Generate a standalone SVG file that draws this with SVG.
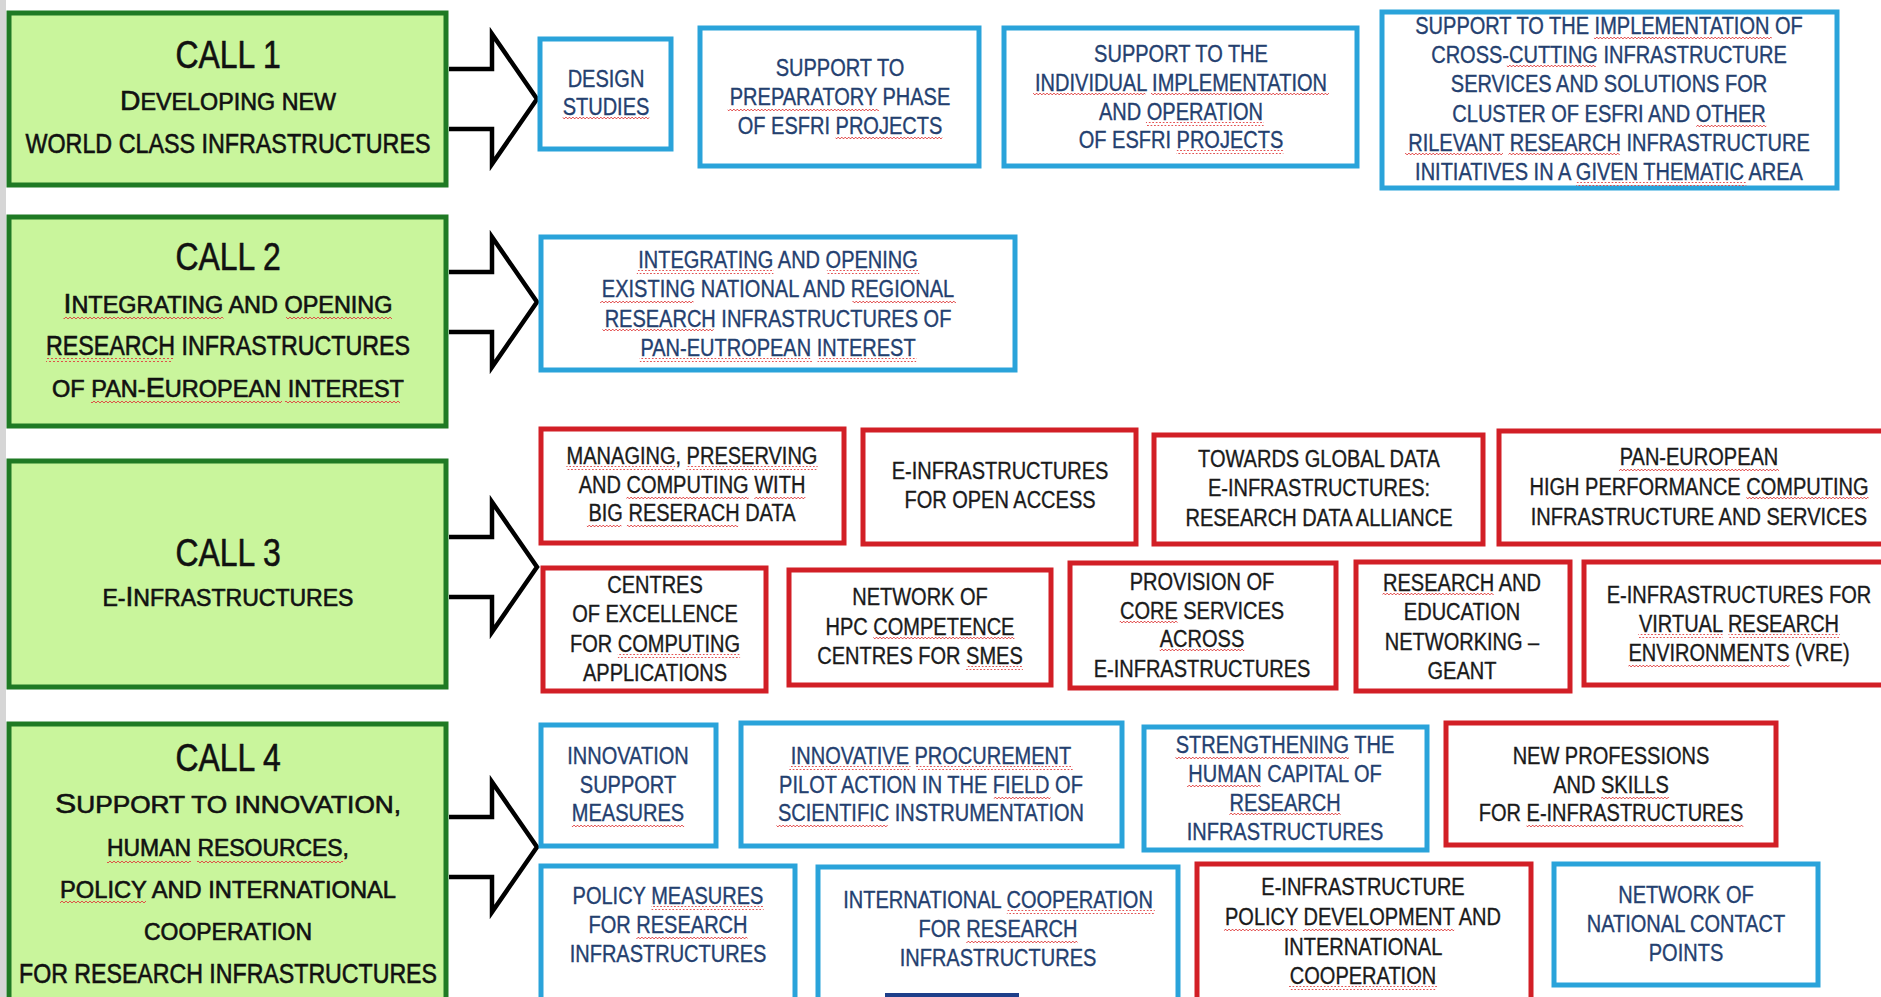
<svg xmlns="http://www.w3.org/2000/svg" width="1881" height="997" viewBox="0 0 1881 997">
<defs>
<pattern id="wv" width="4" height="4" patternUnits="userSpaceOnUse">
<path d="M0,3 L2,1 L4,3" fill="none" stroke="#e0403f" stroke-width="0.9"/>
</pattern>
</defs>
<style>
text{font-family:"Liberation Sans",Arial,sans-serif;text-anchor:middle}
.gb{fill:#c9f59c;stroke:#1f7a24;stroke-width:5}
.bb{fill:#fff;stroke:#2aa3da;stroke-width:5}
.rb{fill:#fff;stroke:#d21f26;stroke-width:5}
.bt text{fill:#24406f;stroke:#24406f;stroke-width:0.35;font-size:23px}
.rt text{fill:#1a1a1a;stroke:#1a1a1a;stroke-width:0.35;font-size:23px}
.call{fill:#111;stroke:#111;stroke-width:0.6;font-size:38px}
.gt{fill:#111;stroke:#111;stroke-width:0.6;font-size:23px}
.B{font-size:28px}
.w{fill:url(#wv)}
.arr{fill:#fff;stroke:#000;stroke-width:4.5;stroke-linejoin:miter}
</style>
<rect x="0" y="0" width="1881" height="997" fill="#fff"/>
<rect x="0" y="0" width="6" height="997" fill="#d6d6d6"/>

<g id="call1">
<rect class="gb" x="9" y="13" width="437" height="172"/>
<text class="call" transform="translate(228 0) scale(0.84 1)" x="0" y="68">CALL 1</text>
<text class="gt" x="228" y="110" textLength="216" lengthAdjust="spacingAndGlyphs"><tspan class="B">D</tspan>EVELOPING NEW</text>
<text class="gt B" x="228" y="153" textLength="405" lengthAdjust="spacingAndGlyphs">WORLD CLASS INFRASTRUCTURES</text>
</g>
<g id="call2">
<rect class="gb" x="9" y="217" width="437" height="209"/>
<text class="call" transform="translate(228 0) scale(0.84 1)" x="0" y="270">CALL 2</text>
<text class="gt" x="228" y="313" textLength="329" lengthAdjust="spacingAndGlyphs"><tspan class="B">I</tspan>NTEGRATING AND OPENING</text>
<text class="gt B" x="228" y="355" textLength="364" lengthAdjust="spacingAndGlyphs">RESEARCH INFRASTRUCTURES</text>
<text class="gt" x="228" y="397" textLength="352" lengthAdjust="spacingAndGlyphs">OF PAN-<tspan class="B">E</tspan>UROPEAN INTEREST</text>
<rect class="w" x="63.5" y="316" width="160" height="4"/>
<rect class="w" x="286" y="316" width="106" height="4"/>
<rect class="w" x="46" y="358" width="127" height="4"/>
<rect class="w" x="91" y="400" width="191" height="4"/>
<rect class="w" x="285" y="400" width="115" height="4"/>
</g>
<g id="call3">
<rect class="gb" x="9" y="461" width="437" height="226"/>
<text class="call" transform="translate(228 0) scale(0.84 1)" x="0" y="566">CALL 3</text>
<text class="gt" x="228" y="606" textLength="251" lengthAdjust="spacingAndGlyphs">E-<tspan class="B">I</tspan>NFRASTRUCTURES</text>
</g>
<g id="call4">
<rect class="gb" x="9" y="724" width="437" height="290"/>
<text class="call" transform="translate(228 0) scale(0.84 1)" x="0" y="771">CALL 4</text>
<text class="gt" x="228" y="813" textLength="346" lengthAdjust="spacingAndGlyphs"><tspan class="B">S</tspan>UPPORT TO INNOVATION,</text>
<text class="gt" x="228" y="856" textLength="242" lengthAdjust="spacingAndGlyphs">HUMAN RESOURCES,</text>
<text class="gt" x="228" y="898" textLength="336" lengthAdjust="spacingAndGlyphs">POLICY AND INTERNATIONAL</text>
<text class="gt" x="228" y="940" textLength="168" lengthAdjust="spacingAndGlyphs">COOPERATION</text>
<text class="gt B" x="228" y="983" textLength="418" lengthAdjust="spacingAndGlyphs">FOR RESEARCH INFRASTRUCTURES</text>
<rect class="w" x="107" y="859" width="84" height="4"/>
<rect class="w" x="197" y="859" width="146" height="4"/>
<rect class="w" x="60" y="901" width="86" height="4"/>
</g>

<g id="connectors">
<path class="arr" d="M449,69 H492 V34 L537,99 L492,164 V129 H449"/>
<path class="arr" d="M449,272 H492 V237 L537,302 L492,367 V332 H449"/>
<path class="arr" d="M449,537 H492 V502 L537,567 L492,632 V597 H449"/>
<path class="arr" d="M449,817 H492 V782 L537,847 L492,912 V877 H449"/>
</g>

<g id="design-studies">
<rect class="bb" x="540" y="39" width="131" height="110"/>
<g class="bt" transform="translate(606 0) scale(0.87 1)">
<text y="87">DESIGN</text><text y="115">STUDIES</text>
<rect class="w" x="-49.8" y="117" width="99.6" height="4"/></g>
</g>
<g id="preparatory">
<rect class="bb" x="700" y="28" width="279" height="138"/>
<g class="bt" transform="translate(840 0) scale(0.87 1)">
<text y="76">SUPPORT TO</text>
<text y="105">PREPARATORY PHASE</text>
<text y="134">OF ESFRI PROJECTS</text>
<rect class="w" x="-129.1" y="107" width="173.8" height="4"/>
<rect class="w" x="-5.1" y="136" width="122.7" height="4"/></g>
</g>
<g id="individual">
<rect class="bb" x="1004" y="28" width="353" height="138"/>
<g class="bt" transform="translate(1181 0) scale(0.87 1)">
<text y="62">SUPPORT TO THE</text>
<text y="91">INDIVIDUAL IMPLEMENTATION</text>
<text y="120">AND OPERATION</text>
<text y="148">OF ESFRI PROJECTS</text>
<rect class="w" x="-170" y="93" width="129.1" height="4"/>
<rect class="w" x="-34.5" y="93" width="204.5" height="4"/>
<rect class="w" x="-40.3" y="122" width="135.5" height="4"/>
<rect class="w" x="-5.1" y="150" width="122.7" height="4"/></g>
</g>
<g id="cross-cutting">
<rect class="bb" x="1382" y="12" width="455" height="176"/>
<g class="bt" transform="translate(1609 0) scale(0.87 1)">
<text y="34">SUPPORT TO THE IMPLEMENTATION OF</text>
<text y="63">CROSS-CUTTING INFRASTRUCTURE</text>
<text y="92">SERVICES AND SOLUTIONS FOR</text>
<text y="122">CLUSTER OF ESFRI AND OTHER</text>
<text y="151">RILEVANT RESEARCH INFRASTRUCTURE</text>
<text y="180">INITIATIVES IN A GIVEN THEMATIC AREA</text>
<rect class="w" x="-17.3" y="36" width="204.5" height="4"/>
<rect class="w" x="-117.4" y="65" width="102.2" height="4"/>
<rect class="w" x="100.3" y="124" width="80.5" height="4"/>
<rect class="w" x="-234.4" y="153" width="112.5" height="4"/>
<rect class="w" x="-115.5" y="153" width="127.8" height="4"/>
<rect class="w" x="-37.7" y="182" width="195.5" height="4"/></g>
</g>
<g id="integrating">
<rect class="bb" x="541" y="237" width="474" height="133"/>
<g class="bt" transform="translate(778 0) scale(0.87 1)">
<text y="268">INTEGRATING AND OPENING</text>
<text y="297">EXISTING NATIONAL AND REGIONAL</text>
<text y="327">RESEARCH INFRASTRUCTURES OF</text>
<text y="356">PAN-EUTROPEAN INTEREST</text>
<rect class="w" x="-162.3" y="270" width="157.2" height="4"/>
<rect class="w" x="56.2" y="270" width="106.1" height="4"/>
<rect class="w" x="-204.5" y="299" width="107.4" height="4"/>
<rect class="w" x="85.6" y="299" width="118.9" height="4"/>
<rect class="w" x="-201.8" y="329" width="127.8" height="4"/>
<rect class="w" x="-159.1" y="358" width="198.1" height="4"/>
<rect class="w" x="45.4" y="358" width="113.7" height="4"/></g>
</g>

<g id="managing">
<rect class="rb" x="541" y="429" width="303" height="114"/>
<g class="rt" transform="translate(692 0) scale(0.87 1)">
<text y="464">MANAGING, PRESERVING</text>
<text y="493">AND COMPUTING WITH</text>
<text y="521">BIG RESERACH DATA</text>
<rect class="w" x="-144.4" y="466" width="125.2" height="4"/>
<rect class="w" x="-6.4" y="466" width="150.8" height="4"/>
<rect class="w" x="-75.4" y="495" width="140.6" height="4"/>
<rect class="w" x="71.6" y="495" width="58.7" height="4"/>
<rect class="w" x="-120.8" y="523" width="39.7" height="4"/>
<rect class="w" x="-74.8" y="523" width="127.8" height="4"/></g>
</g>
<g id="open-access">
<rect class="rb" x="863" y="430" width="273" height="114"/>
<g class="rt" transform="translate(1000 0) scale(0.87 1)">
<text y="479">E-INFRASTRUCTURES</text>
<text y="508">FOR OPEN ACCESS</text></g>
</g>
<g id="global-data">
<rect class="rb" x="1154" y="435" width="329" height="109"/>
<g class="rt" transform="translate(1319 0) scale(0.87 1)">
<text y="467">TOWARDS GLOBAL DATA</text>
<text y="496">E-INFRASTRUCTURES:</text>
<text y="526">RESEARCH DATA ALLIANCE</text></g>
</g>
<g id="hpc">
<rect class="rb" x="1499" y="431" width="400" height="113"/>
<g class="rt" transform="translate(1699 0) scale(0.87 1)">
<text y="465">PAN-EUROPEAN</text>
<text y="495">HIGH PERFORMANCE COMPUTING</text>
<text y="525">INFRASTRUCTURE AND SERVICES</text>
<rect class="w" x="-92" y="467" width="184" height="4"/>
<rect class="w" x="54.3" y="497" width="140.6" height="4"/></g>
</g>
<g id="centres">
<rect class="rb" x="543" y="568" width="223" height="123"/>
<g class="rt" transform="translate(655 0) scale(0.87 1)">
<text y="593">CENTRES</text>
<text y="622">OF EXCELLENCE</text>
<text y="652">FOR COMPUTING</text>
<text y="681">APPLICATIONS</text>
<rect class="w" x="-42.8" y="654" width="140.6" height="4"/></g>
</g>
<g id="hpc-competence">
<rect class="rb" x="789" y="570" width="262" height="115"/>
<g class="rt" transform="translate(920 0) scale(0.87 1)">
<text y="605">NETWORK OF</text>
<text y="635">HPC COMPETENCE</text>
<text y="664">CENTRES FOR SMES</text>
<rect class="w" x="-53.7" y="637" width="162.3" height="4"/>
<rect class="w" x="53" y="666" width="65.2" height="4"/></g>
</g>
<g id="core-services">
<rect class="rb" x="1070" y="563" width="266" height="125"/>
<g class="rt" transform="translate(1202 0) scale(0.87 1)">
<text y="590">PROVISION OF</text>
<text y="619">CORE SERVICES</text>
<text y="647">ACROSS</text>
<text y="677">E-INFRASTRUCTURES</text>
<rect class="w" x="-94.6" y="621" width="66.5" height="4"/>
<rect class="w" x="-48.6" y="649" width="97.2" height="4"/></g>
</g>
<g id="geant">
<rect class="rb" x="1356" y="562" width="214" height="129"/>
<g class="rt" transform="translate(1462 0) scale(0.87 1)">
<text y="591">RESEARCH AND</text>
<text y="620">EDUCATION</text>
<text y="650">NETWORKING –</text>
<text y="679">GEANT</text>
<rect class="w" x="-91.4" y="593" width="127.8" height="4"/></g>
</g>
<g id="vre">
<rect class="rb" x="1584" y="562" width="310" height="123"/>
<g class="rt" transform="translate(1739 0) scale(0.87 1)">
<text y="603">E-INFRASTRUCTURES FOR</text>
<text y="632">VIRTUAL RESEARCH</text>
<text y="661">ENVIRONMENTS (VRE)</text>
<rect class="w" x="-115.7" y="634" width="97.2" height="4"/>
<rect class="w" x="-12.1" y="634" width="127.8" height="4"/>
<rect class="w" x="-127.1" y="663" width="185.2" height="4"/></g>
</g>

<g id="innovation-support">
<rect class="bb" x="541" y="725" width="175" height="121"/>
<g class="bt" transform="translate(628 0) scale(0.87 1)">
<text y="764">INNOVATION</text>
<text y="793">SUPPORT</text>
<text y="821">MEASURES</text>
<rect class="w" x="-64.5" y="823" width="129" height="4"/></g>
</g>
<g id="procurement">
<rect class="bb" x="741" y="723" width="381" height="123"/>
<g class="bt" transform="translate(931 0) scale(0.87 1)">
<text y="764">INNOVATIVE PROCUREMENT</text>
<text y="793">PILOT ACTION IN THE FIELD OF</text>
<text y="821">SCIENTIFIC INSTRUMENTATION</text>
<rect class="w" x="-162.9" y="766" width="139.3" height="4"/>
<rect class="w" x="-17.2" y="766" width="180.1" height="4"/>
<rect class="w" x="72.2" y="795" width="65.2" height="4"/>
<rect class="w" x="-177.6" y="823" width="127.8" height="4"/></g>
</g>
<g id="human-capital">
<rect class="bb" x="1144" y="727" width="283" height="123"/>
<g class="bt" transform="translate(1285 0) scale(0.87 1)">
<text y="753">STRENGTHENING THE</text>
<text y="782">HUMAN CAPITAL OF</text>
<text y="811">RESEARCH</text>
<text y="840">INFRASTRUCTURES</text>
<rect class="w" x="-125.9" y="755" width="199.4" height="4"/>
<rect class="w" x="-112.5" y="784" width="84.4" height="4"/>
<rect class="w" x="-63.9" y="813" width="127.8" height="4"/></g>
</g>
<g id="new-professions">
<rect class="rb" x="1446" y="723" width="330" height="122"/>
<g class="rt" transform="translate(1611 0) scale(0.87 1)">
<text y="764">NEW PROFESSIONS</text>
<text y="793">AND SKILLS</text>
<text y="821">FOR E-INFRASTRUCTURES</text>
<rect class="w" x="-11.5" y="795" width="78" height="4"/>
<rect class="w" x="-97.1" y="823" width="249.2" height="4"/></g>
</g>
<g id="policy-measures">
<rect class="bb" x="541" y="866" width="254" height="140"/>
<g class="bt" transform="translate(668 0) scale(0.87 1)">
<text y="904">POLICY MEASURES</text>
<text y="933">FOR RESEARCH</text>
<text y="962">INFRASTRUCTURES</text>
<rect class="w" x="-19.2" y="906" width="129.1" height="4"/>
<rect class="w" x="-36.4" y="935" width="127.8" height="4"/></g>
</g>
<g id="international-cooperation">
<rect class="bb" x="818" y="867" width="360" height="140"/>
<g class="bt" transform="translate(998 0) scale(0.87 1)">
<text y="908">INTERNATIONAL COOPERATION</text>
<text y="937">FOR RESEARCH</text>
<text y="966">INFRASTRUCTURES</text>
<rect class="w" x="10.2" y="910" width="170" height="4"/>
<rect class="w" x="-36.4" y="939" width="127.8" height="4"/></g>
</g>
<g id="e-infra-policy">
<rect class="rb" x="1197" y="864" width="334" height="140"/>
<g class="rt" transform="translate(1363 0) scale(0.87 1)">
<text y="895">E-INFRASTRUCTURE</text>
<text y="925">POLICY DEVELOPMENT AND</text>
<text y="955">INTERNATIONAL</text>
<text y="984">COOPERATION</text>
<rect class="w" x="-159.8" y="927" width="84.4" height="4"/>
<rect class="w" x="-69" y="927" width="173.8" height="4"/>
<rect class="w" x="-85" y="986" width="170" height="4"/></g>
</g>
<g id="ncp">
<rect class="bb" x="1554" y="864" width="264" height="121"/>
<g class="bt" transform="translate(1686 0) scale(0.87 1)">
<text y="903">NETWORK OF</text>
<text y="932">NATIONAL CONTACT</text>
<text y="961">POINTS</text></g>
</g>
<rect x="885" y="993" width="134" height="4" fill="#1e3f8a"/>
</svg>
